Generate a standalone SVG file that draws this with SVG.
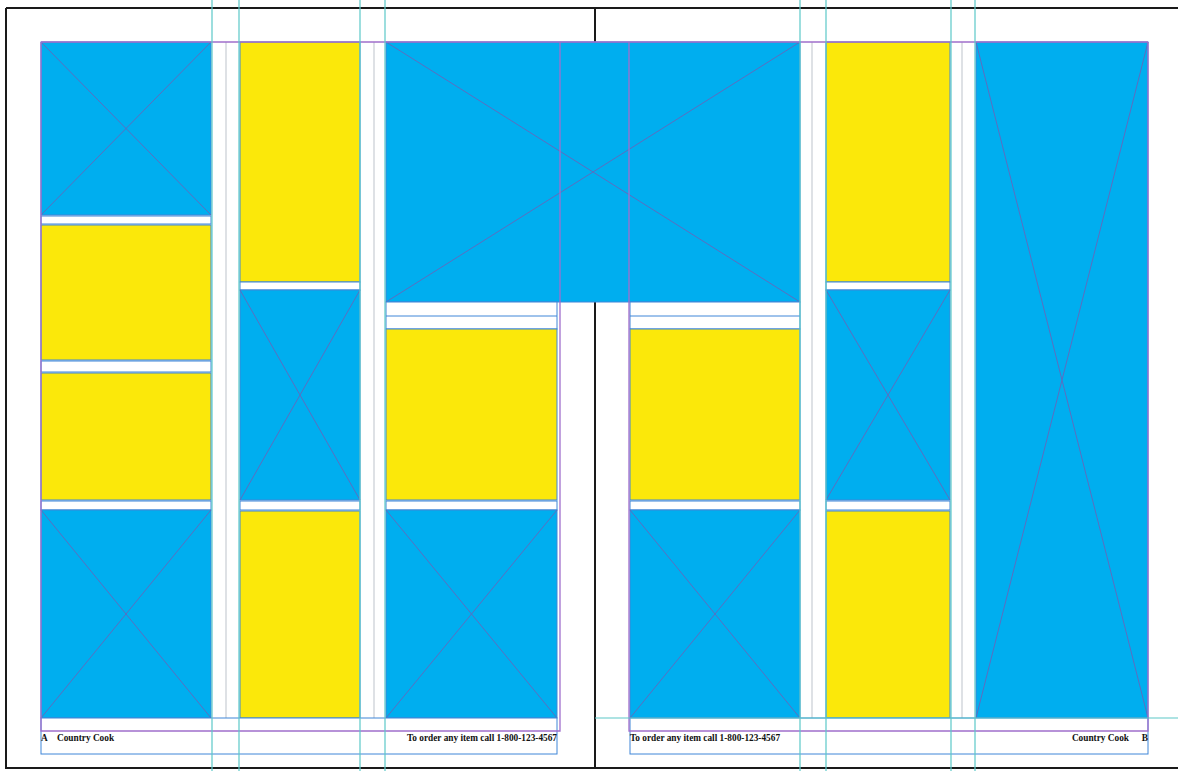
<svg xmlns="http://www.w3.org/2000/svg" width="1178" height="771" viewBox="0 0 1178 771">
<defs>
<style>
.b{fill:#00AEEF;stroke:#3f86d8;stroke-width:1}
.y{fill:#FBE80A;stroke:#3f86d8;stroke-width:1}
.w{fill:#FFFFFF;stroke:#3f86d8;stroke-width:1}
.x{stroke:#5b6ec0;stroke-width:1;fill:none}
.cy{stroke:#5cc8c8;stroke-width:1.2;fill:none}
.gr{stroke:#c9ced4;stroke-width:1.2;fill:none}
.mg{stroke:#a06fcc;stroke-width:1.3;fill:none}
.bk{stroke:#1a1a1a;stroke-width:2;fill:none}
.ft{font-family:"Liberation Serif","Times New Roman",serif;font-weight:bold;font-size:9.3px;fill:#111}
</style>
</defs>
<rect x="0" y="0" width="1178" height="771" fill="#FFFFFF"/>
<g id="page-border">
<path class="bk" d="M6 8H1178M6 8V768H1178M595 8V42M595 302V768"/>
</g>
<g id="gutter-lines">
<path class="gr" d="M226 42V718M374 42V718M812 42V718M962 42V718"/>
</g>
<g id="col1">
<g id="c1-img1"><rect class="b" x="41" y="42" width="170" height="173"/><path class="x" d="M41 42L211 215M211 42L41 215"/></g>
<rect id="c1-gap1" class="w" x="41" y="216" width="170" height="8"/>
<rect id="c1-text1" class="y" x="41" y="225" width="170" height="135"/>
<rect id="c1-gap2" class="w" x="41" y="361" width="170" height="11"/>
<rect id="c1-text2" class="y" x="41" y="373" width="170" height="127"/>
<rect id="c1-gap3" class="w" x="41" y="501" width="170" height="9"/>
<g id="c1-img2"><rect class="b" x="41" y="510" width="170" height="208"/><path class="x" d="M41 510L211 718M211 510L41 718"/></g>
</g>
<g id="col2">
<rect id="c2-text1" class="y" x="240" y="42" width="120" height="240"/>
<rect id="c2-gap1" class="w" x="240" y="282" width="120" height="8"/>
<g id="c2-img1"><rect class="b" x="240" y="290" width="120" height="210"/><path class="x" d="M240 290L360 500M360 290L240 500"/></g>
<rect id="c2-gap2" class="w" x="240" y="501" width="120" height="9"/>
<rect id="c2-text2" class="y" x="240" y="511" width="120" height="207"/>
</g>
<g id="spread-img">
<rect class="b" x="386" y="42" width="414" height="260"/><path class="x" d="M386 42L800 302M800 42L386 302"/>
</g>
<g id="col3">
<g id="c3-head"><rect class="w" x="386" y="302" width="171" height="27"/><path d="M386 316H557" stroke="#3f86d8" stroke-width="1"/></g>
<rect id="c3-text1" class="y" x="386" y="329" width="171" height="171"/>
<rect id="c3-gap1" class="w" x="386" y="501" width="171" height="9"/>
<g id="c3-img1"><rect class="b" x="386" y="510" width="171" height="208"/><path class="x" d="M386 510L557 718M557 510L386 718"/></g>
</g>
<g id="col4">
<g id="c4-head"><rect class="w" x="630" y="302" width="170" height="27"/><path d="M630 316H800" stroke="#3f86d8" stroke-width="1"/></g>
<rect id="c4-text1" class="y" x="630" y="329" width="170" height="171"/>
<rect id="c4-gap1" class="w" x="630" y="501" width="170" height="9"/>
<g id="c4-img1"><rect class="b" x="630" y="510" width="170" height="208"/><path class="x" d="M630 510L800 718M800 510L630 718"/></g>
</g>
<g id="col5">
<rect id="c5-text1" class="y" x="826" y="42" width="124" height="240"/>
<rect id="c5-gap1" class="w" x="826" y="282" width="124" height="8"/>
<g id="c5-img1"><rect class="b" x="826" y="290" width="124" height="210"/><path class="x" d="M826 290L950 500M950 290L826 500"/></g>
<rect id="c5-gap2" class="w" x="826" y="501" width="124" height="9"/>
<rect id="c5-text2" class="y" x="826" y="511" width="124" height="207"/>
</g>
<g id="col6">
<rect class="b" x="976" y="42" width="172" height="676"/><path class="x" d="M976 42L1148 718M1148 42L976 718"/>
</g>
<g id="footer-left">
<rect class="w" x="41" y="718" width="516" height="36"/>
<text class="ft" x="41" y="741">A</text>
<text class="ft" x="57" y="741">Country Cook</text>
<text class="ft" x="557" y="741" text-anchor="end">To order any item call 1-800-123-4567</text>
</g>
<g id="footer-right">
<rect class="w" x="630" y="718" width="518" height="36"/>
<text class="ft" x="630" y="741">To order any item call 1-800-123-4567</text>
<text class="ft" x="1129" y="741" text-anchor="end">Country Cook</text>
<text class="ft" x="1148" y="741" text-anchor="end">B</text>
</g>
<g id="margins">
<path class="mg" d="M41 42H1148M41 42V731H560V42M629 42V731H1148V42"/>
</g>
<g id="guides">
<path class="cy" d="M212 0V771M239 0V771M360 0V771M385 0V771M800 0V771M826 0V771M951 0V771M975 0V771M595 718H1178"/>
</g>
<g id="connectors"/>
</svg>
